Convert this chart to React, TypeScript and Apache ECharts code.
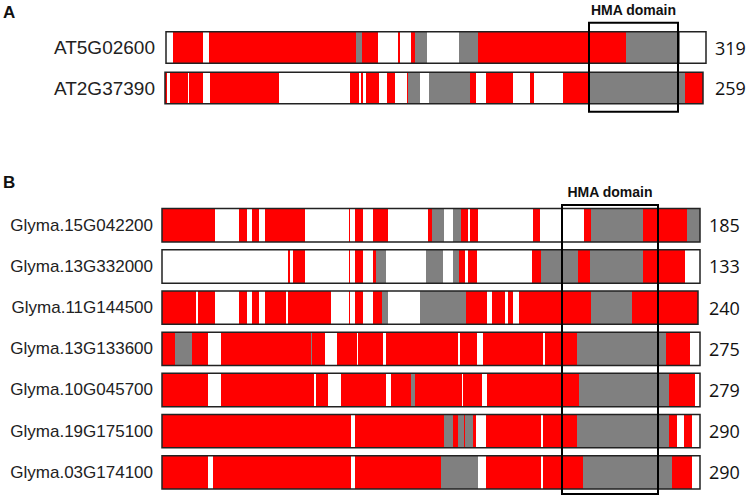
import React, { useEffect, useRef } from 'react';
import * as echarts from 'echarts';

// ---------- Panel A data (alignment positions, grid units) ----------
const genesA = ['AT5G02600', 'AT2G37390'];
const lengthsA = ['319', '259'];
const boxesA = [
  [1, 541],
  [0, 538],
];
const segsAT5G02600 = [
  [8, 38, 'R'], [44, 191, 'R'], [191, 197, 'G'], [197, 213, 'R'], [233, 235, 'R'],
  [246, 250, 'R'], [250, 262, 'G'], [294, 313, 'G'], [313, 461, 'R'], [461, 515, 'G'],
];
const segsAT2G37390 = [
  [0, 2, 'R'], [5, 23, 'R'], [24, 38, 'R'], [45, 114, 'R'], [185, 194, 'R'], [196, 198, 'R'],
  [201, 214, 'R'], [222, 230, 'R'], [242, 243, 'R'], [243, 255, 'G'], [264, 305, 'G'],
  [305, 311, 'R'], [321, 348, 'R'], [365, 369, 'R'], [398, 425, 'R'], [425, 520, 'G'], [520, 538, 'R'],
];
const segsA = [segsAT5G02600, segsAT2G37390];
const hmaA = [424, 513];

// ---------- Panel B data ----------
const genesB = [
  'Glyma.15G042200', 'Glyma.13G332000', 'Glyma.11G144500', 'Glyma.13G133600',
  'Glyma.10G045700', 'Glyma.19G175100', 'Glyma.03G174100',
];
const lengthsB = ['185', '133', '240', '275', '279', '290', '290'];
const boxesB = [
  [0, 538], [0, 538], [0, 536], [0, 538], [0, 538], [0, 538], [0, 538],
];
const segs15G042200 = [
  [0, 53, 'R'], [77, 85, 'R'], [90, 97, 'R'], [103, 143, 'R'], [187, 188, 'R'], [193, 201, 'R'],
  [211, 226, 'R'], [266, 270, 'R'], [270, 282, 'G'], [291, 299, 'G'], [299, 306, 'R'],
  [308, 316, 'R'], [371, 378, 'R'], [422, 429, 'R'], [429, 481, 'G'], [481, 525, 'R'], [525, 538, 'G'],
];
const segs13G332000 = [
  [126, 128, 'R'], [131, 143, 'R'], [187, 188, 'R'], [193, 201, 'R'], [211, 214, 'R'],
  [214, 224, 'G'], [264, 281, 'G'], [291, 297, 'G'], [297, 303, 'R'], [306, 315, 'R'],
  [370, 379, 'R'], [379, 416, 'G'], [416, 428, 'R'], [428, 481, 'G'], [481, 523, 'R'],
];
const segs11G144500 = [
  [0, 34, 'R'], [36, 53, 'R'], [77, 85, 'R'], [90, 97, 'R'], [103, 124, 'R'], [126, 169, 'R'],
  [187, 188, 'R'], [193, 201, 'R'], [211, 220, 'R'], [220, 226, 'G'], [258, 304, 'G'],
  [304, 325, 'R'], [330, 343, 'R'], [346, 351, 'R'], [357, 429, 'R'], [429, 470, 'G'], [470, 536, 'R'],
];
const segs13G133600 = [
  [0, 13, 'R'], [13, 30, 'G'], [30, 46, 'R'], [59, 149, 'R'], [149, 150, 'G'], [150, 163, 'R'],
  [175, 195, 'R'], [196, 221, 'R'], [224, 296, 'R'], [298, 315, 'R'], [321, 381, 'R'],
  [383, 415, 'R'], [415, 504, 'G'], [504, 528, 'R'],
];
const segs10G045700 = [
  [0, 46, 'R'], [59, 152, 'R'], [154, 166, 'R'], [179, 224, 'R'], [229, 249, 'R'], [249, 253, 'G'],
  [253, 300, 'R'], [301, 320, 'R'], [325, 417, 'R'], [417, 507, 'G'], [507, 533, 'R'],
];
const segs19G175100 = [
  [0, 189, 'R'], [193, 282, 'R'], [282, 291, 'G'], [291, 296, 'R'], [296, 302, 'G'], [302, 303, 'R'],
  [303, 311, 'G'], [311, 314, 'R'], [324, 379, 'R'], [381, 415, 'R'], [415, 507, 'G'],
  [507, 515, 'R'], [522, 530, 'R'],
];
const segs03G174100 = [
  [0, 46, 'R'], [51, 189, 'R'], [193, 279, 'R'], [279, 316, 'G'], [324, 379, 'R'],
  [381, 421, 'R'], [421, 510, 'G'], [510, 530, 'R'],
];
const segsB = [
  segs15G042200, segs13G332000, segs11G144500, segs13G133600,
  segs10G045700, segs19G175100, segs03G174100,
];
const hmaB = [400, 496];

const RED = '#ff0000';
const GRAY = '#808080';

function flatten(segs: any[][]) {
  const out: any[] = [];
  segs.forEach((row, i) => row.forEach((s: any) => out.push([s[0], s[1], i, s[2]])));
  return out;
}

function buildPanel(gi: number, genes: string[], lengths: string[], boxes: number[][], segs: any[][], hma: number[], ratio: number, padTop: number, padBottom: number) {
  const segData = flatten(segs);
  const boxData = boxes.map((b, i) => [b[0], b[1], i]);
  const n = genes.length;
  const rectFor = (api: any, x0: number, x1: number, row: number) => {
    const p0 = api.coord([x0, row]);
    const p1 = api.coord([x1, row]);
    const h = api.size([0, 1])[1] * ratio;
    return { x: p0[0], y: p0[1] - h / 2, width: p1[0] - p0[0], height: h };
  };
  const common = { type: 'custom', xAxisIndex: gi, yAxisIndex: gi * 2, clip: false, silent: true, encode: { x: [0, 1], y: 2 } };
  return [
    {
      ...common,
      z: 1,
      data: boxData,
      renderItem: (p: any, api: any) => ({
        type: 'rect',
        shape: rectFor(api, api.value(0), api.value(1), api.value(2)),
        style: { fill: '#ffffff' },
      }),
    },
    {
      ...common,
      z: 2,
      data: segData.map((d) => [d[0], d[1], d[2]]),
      renderItem: (p: any, api: any) => ({
        type: 'rect',
        shape: rectFor(api, api.value(0), api.value(1), api.value(2)),
        style: { fill: segData[p.dataIndex][3] === 'R' ? RED : GRAY },
      }),
    },
    {
      ...common,
      z: 3,
      data: boxData,
      renderItem: (p: any, api: any) => ({
        type: 'rect',
        shape: rectFor(api, api.value(0), api.value(1), api.value(2)),
        style: { fill: 'none', stroke: '#222222', lineWidth: 1.5 },
      }),
    },
    {
      ...common,
      z: 4,
      data: [[hma[0], hma[1], 0]],
      renderItem: (p: any, api: any) => {
        const band = api.size([0, 1])[1];
        const a = api.coord([api.value(0), 0]);
        const b = api.coord([api.value(1), n - 1]);
        const top = a[1] - (band * ratio) / 2 - padTop;
        const bottom = b[1] + (band * ratio) / 2 + padBottom;
        return {
          type: 'group',
          children: [
            {
              type: 'rect',
              shape: { x: a[0], y: top, width: b[0] - a[0], height: bottom - top },
              style: { fill: 'none', stroke: '#000000', lineWidth: 2 },
            },
            {
              type: 'text',
              style: {
                text: 'HMA domain',
                x: (a[0] + b[0]) / 2,
                y: top - 13,
                align: 'center',
                verticalAlign: 'middle',
                fill: '#111111',
                font: 'bold 14px "Liberation Sans", Arial, sans-serif',
              },
            },
          ],
        };
      },
    },
  ];
}

export default function App() {
  const ref = useRef<HTMLDivElement>(null);
  useEffect(() => {
    document.body.style.margin = '0';
    const chart = echarts.init(ref.current!, null, { renderer: 'svg' });
    const leftLabelA = { fontSize: 19, color: '#222222', fontFamily: '"Liberation Sans", Arial, sans-serif', margin: 10 };
    const leftLabelB = { fontSize: 17, color: '#222222', fontFamily: '"Liberation Sans", Arial, sans-serif', margin: 9 };
    const rightLabel = { fontSize: 18, color: '#111111', fontFamily: '"Open Sans", sans-serif', margin: 9, align: 'left' };
    const catAxis = (gi: number, data: string[], position: string, label: any) => ({
      type: 'category',
      gridIndex: gi,
      data,
      inverse: true,
      position,
      axisLine: { show: false },
      axisTick: { show: false },
      splitLine: { show: false },
      axisLabel: label,
    });
    const valAxis = (gi: number, max: number) => ({
      type: 'value',
      gridIndex: gi,
      min: 0,
      max,
      show: false,
    });
    const titleStyle = { fontSize: 17, fontWeight: 'bold', color: '#111111', fontFamily: '"Liberation Sans", Arial, sans-serif' };
    chart.setOption({
      animation: false,
      backgroundColor: '#ffffff',
      title: [
        { text: 'A', left: 3, top: 4, padding: 0, textStyle: titleStyle },
        { text: 'B', left: 3, top: 174, padding: 0, textStyle: titleStyle },
      ],
      grid: [
        { left: 165, top: 27.25, width: 541, height: 81 },
        { left: 162, top: 204.7, width: 538, height: 288.2 },
      ],
      xAxis: [valAxis(0, 541), valAxis(1, 538)],
      yAxis: [
        catAxis(0, genesA, 'left', leftLabelA),
        catAxis(0, lengthsA, 'right', rightLabel),
        catAxis(1, genesB, 'left', leftLabelB),
        catAxis(1, lengthsB, 'right', rightLabel),
      ],
      series: [
        ...buildPanel(0, genesA, lengthsA, boxesA, segsA, hmaA, 0.78, 9, 8),
        ...buildPanel(1, genesB, lengthsB, boxesB, segsB, hmaB, 0.81, 3.5, 5),
      ],
    });
    return () => chart.dispose();
  }, []);
  return <div ref={ref} style={{ position: 'absolute', left: 0, top: 0, width: 750, height: 498 }} />;
}
